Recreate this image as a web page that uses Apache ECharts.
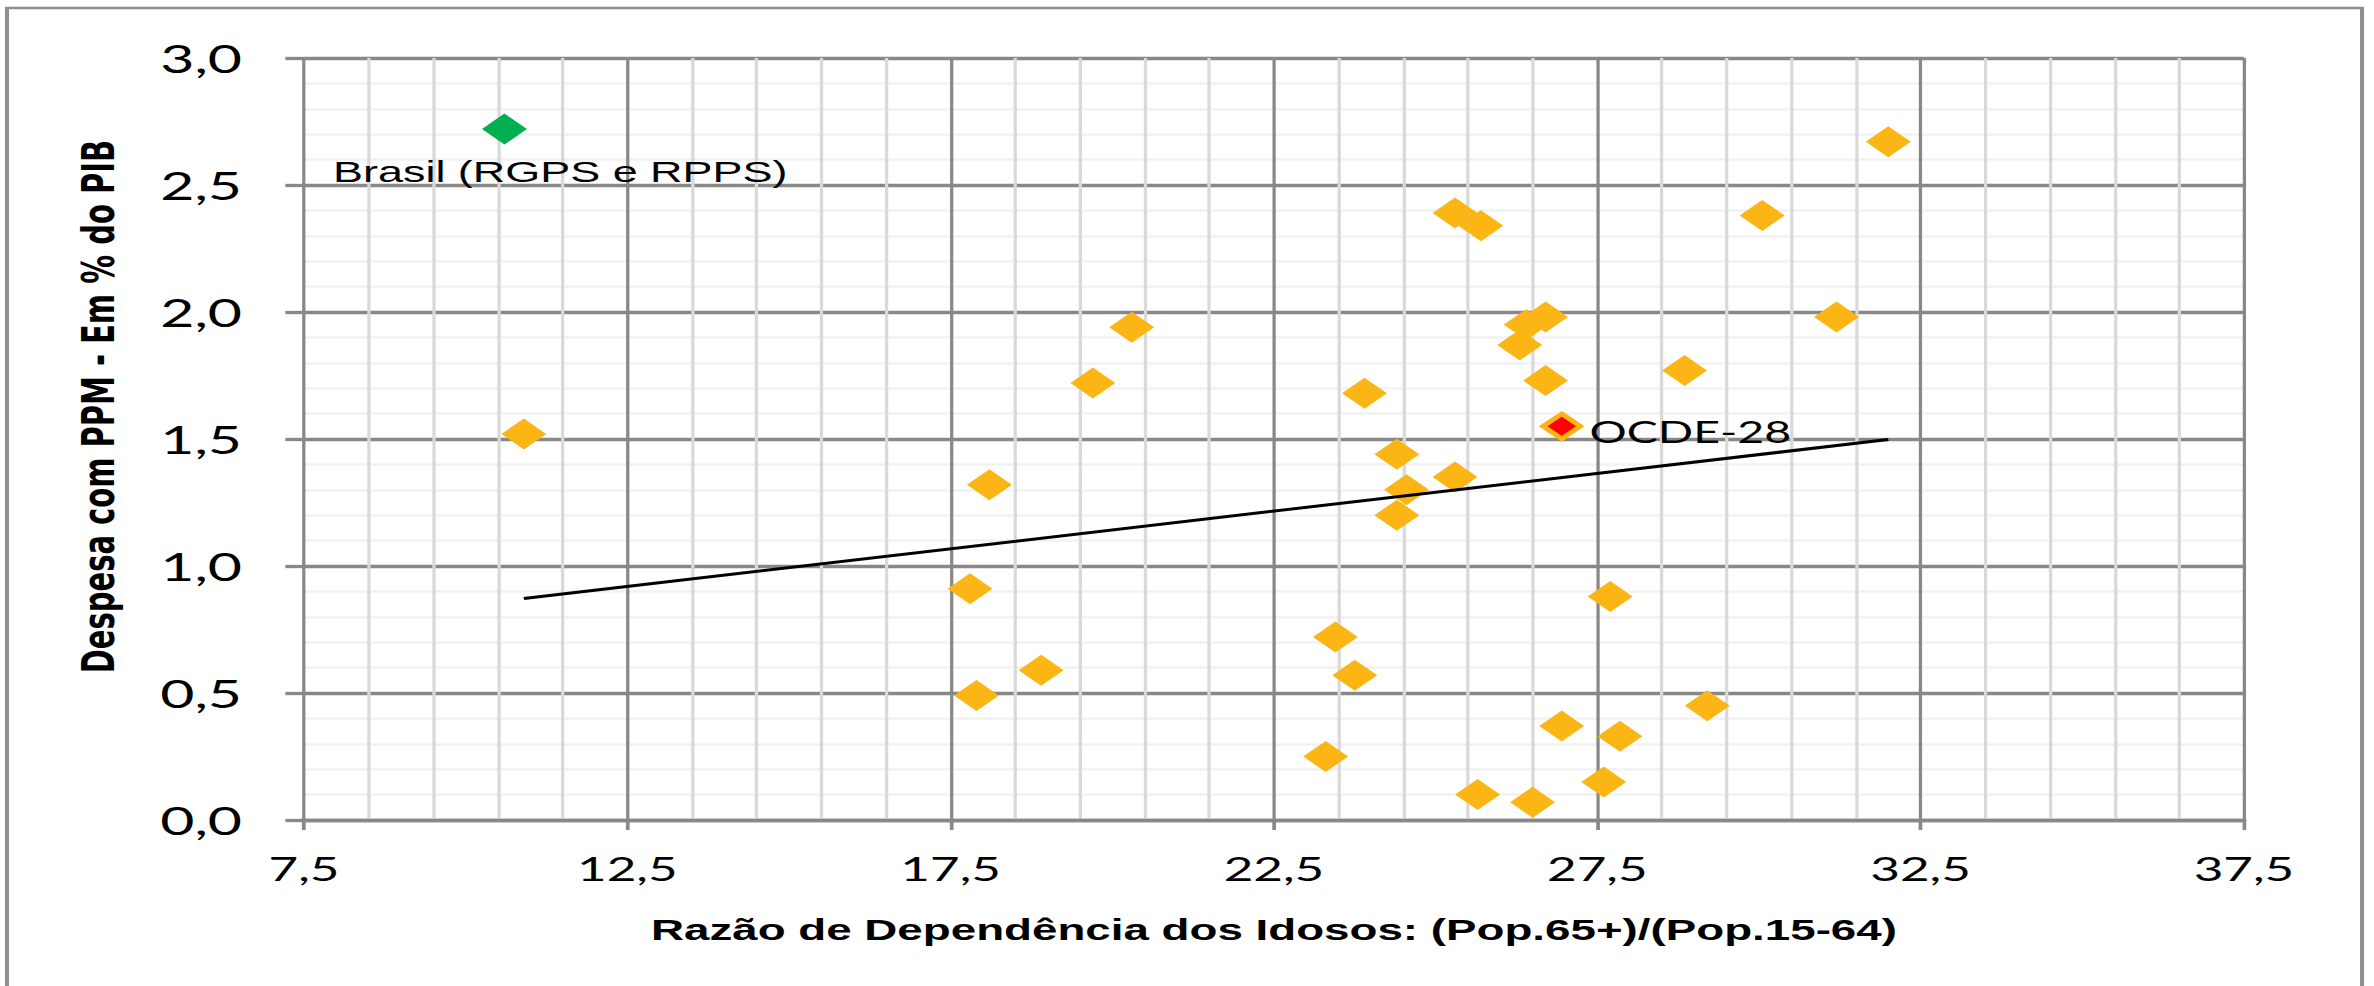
<!DOCTYPE html>
<html>
<head>
<meta charset="utf-8">
<script src="https://cdn.jsdelivr.net/npm/echarts@6/dist/echarts.min.js"></script>
<style>
  html, body { margin: 0; padding: 0; background: #fff; overflow: hidden; }
  /* the chart is laid out narrow and widened horizontally */
  #chart { width: 1531.6px; height: 986px; transform: scaleX(1.55); transform-origin: 0 0; }
</style>
</head>
<body>
<div id="chart"></div>
<script>
// Países da OCDE: razão de dependência dos idosos (x) e despesa com PPM em % do PIB (y)
const paisesX = [10.9, 17.8, 17.9, 18.1, 18.9, 19.7, 20.3, 23.3, 23.45, 23.75, 23.9,
                 24.4, 24.4, 24.55, 25.3, 25.3, 25.7, 25.65, 26.3, 26.4, 26.7, 26.7,
                 26.5, 26.95, 27.6, 27.7, 27.85, 28.85, 29.2, 30.05, 31.2, 32.0];
const paisesY = [1.52, 0.91, 0.49, 1.32, 0.59, 1.72, 1.94, 0.25, 0.72, 0.57, 1.68,
                 1.44, 1.20, 1.30, 1.35, 2.39, 2.34, 0.10, 1.87, 1.95, 1.98, 1.73,
                 0.07, 0.37, 0.15, 0.88, 0.33, 1.77, 0.45, 2.38, 1.98, 2.67];

// Destaques
const brasil = [10.6, 2.72];
const brasilNome = 'Brasil (RGPS e RPPS)';
const ocde28 = [26.95, 1.55];
const ocde28Nome = 'OCDE-28';

// Linha de tendência (extremos)
const tendenciaX = [10.9, 32.0];
const tendenciaY = [0.872, 1.498];

// Eixos
const xMin = 7.5, xMax = 37.5, xPasso = 5;
const yMin = 0, yMax = 3, yPasso = 0.5;
const tituloX = 'Razão de Dependência dos Idosos: (Pop.65+)/(Pop.15-64)';
const tituloY = 'Despesa com PPM - Em % do PIB';

const fmt = v => v.toFixed(1).replace('.', ',');

const laranja = '#FBB515';
const cinzaForte = '#888888';

const chart = echarts.init(document.getElementById('chart'), null, { renderer: 'svg' });

chart.setOption({
  backgroundColor: '#ffffff',
  animation: false,
  grid: {
    left: 196.1, top: 58, width: 1251.6, height: 762,
    containLabel: false, outerBoundsMode: 'none'
  },
  graphic: [{
    type: 'rect',
    shape: { x: 4.5, y: 8, width: 1519.4, height: 1010 },
    style: { fill: 'none', stroke: '#8f8f8f', lineWidth: 2.6 },
    silent: true, z: -10
  }],
  xAxis: {
    type: 'value', min: xMin, max: xMax, interval: xPasso, z: 3,
    axisLine: { show: true, onZero: false, lineStyle: { color: cinzaForte, width: 3.3 } },
    axisTick: { show: true, length: 10, lineStyle: { color: cinzaForte, width: 2.4 } },
    axisLabel: {
      formatter: fmt, margin: 32, color: '#000',
      fontFamily: 'Lato', fontSize: 33
    },
    splitLine: { show: true, showMinLine: true, showMaxLine: true,
                 lineStyle: { color: cinzaForte, width: 2.1 } },
    minorTick: { show: false, splitNumber: 5 },
    minorSplitLine: { show: true, lineStyle: { color: '#d9d9d9', width: 2.1 } },
    name: tituloX, nameLocation: 'middle', nameGap: 95,
    nameTextStyle: { fontFamily: 'Liberation Sans', fontWeight: 'bold', fontSize: 29.5, color: '#000' }
  },
  yAxis: {
    type: 'value', min: yMin, max: yMax, interval: yPasso, z: 1,
    axisLine: { show: false },
    axisTick: { show: true, length: 12, lineStyle: { color: cinzaForte, width: 3.3 } },
    axisLabel: {
      formatter: fmt, margin: 40, color: '#000',
      fontFamily: 'Lato', fontSize: 38
    },
    splitLine: { show: true, showMinLine: true, showMaxLine: true,
                 lineStyle: { color: cinzaForte, width: 3.3 } },
    minorTick: { show: false, splitNumber: 5 },
    minorSplitLine: { show: true, lineStyle: { color: '#f2f2f2', width: 2.7 } },
    name: tituloY, nameLocation: 'middle', nameGap: 118,
    nameTextStyle: {
      fontFamily: 'DejaVu Sans', fontWeight: 'bold', fontSize: 29, color: '#000',
      padding: [0, 0, 0, 65]
    }
  },
  series: [
    {
      name: 'OCDE', type: 'scatter', z: 5,
      symbol: 'diamond', symbolSize: [29, 31],
      itemStyle: { color: laranja, opacity: 1 },
      data: paisesX.map((x, i) => [x, paisesY[i]])
    },
    {
      name: 'Tendência', type: 'line', z: 6,
      showSymbol: false, symbol: 'none',
      lineStyle: { color: '#000', width: 3 },
      data: tendenciaX.map((x, i) => [x, tendenciaY[i]])
    },
    {
      name: brasilNome, type: 'scatter', z: 7,
      symbol: 'diamond', symbolSize: [29, 31],
      itemStyle: { color: '#00B050', opacity: 1 },
      label: {
        show: true, position: 'inside', offset: [36, 43],
        formatter: brasilNome, color: '#000',
        fontFamily: 'Liberation Sans', fontSize: 29
      },
      data: [brasil]
    },
    {
      name: ocde28Nome, type: 'scatter', z: 8,
      symbol: 'diamond', symbolSize: [24, 25],
      itemStyle: { color: '#FF0000', borderColor: laranja, borderWidth: 4, opacity: 1 },
      label: {
        show: true, position: 'inside', align: 'left', offset: [18, 5],
        formatter: ocde28Nome, color: '#000',
        fontFamily: 'Lato', fontSize: 30
      },
      data: [ocde28]
    }
  ]
});
</script>
</body>
</html>
